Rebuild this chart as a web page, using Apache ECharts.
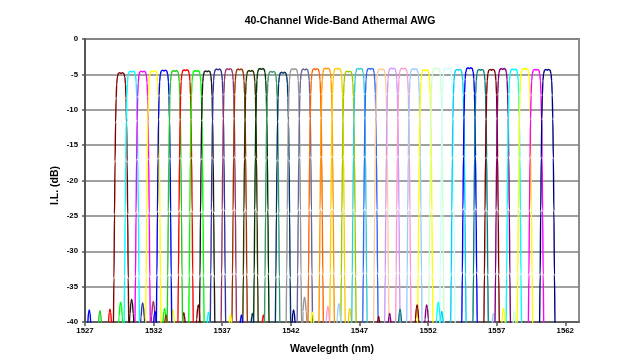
<!DOCTYPE html>
<html>
<head>
<meta charset="utf-8">
<script src="https://cdn.jsdelivr.net/npm/echarts@6/dist/echarts.min.js"></script>
<style>
html,body{margin:0;padding:0;background:#fff;}
#chart{width:640px;height:360px;}
</style>
</head>
<body>
<div id="chart"></div>
<script>
// Channel centre wavelengths (nm), left to right
var centers = [1529.63,1530.41,1531.20,1531.98,1532.76,1533.55,1534.33,1535.12,1535.90,1536.69,
               1537.48,1538.27,1539.06,1539.85,1540.64,1541.43,1542.22,1543.02,1543.81,1544.61,
               1545.40,1546.20,1547.00,1547.80,1548.59,1549.40,1550.20,1551.00,1551.80,1552.60,
               1553.41,1554.21,1555.02,1555.83,1556.63,1557.44,1558.25,1559.06,1559.87,1560.69];
// Peak insertion loss of each channel (dB)
var peakIL = [-4.76,-4.55,-4.55,-4.5,-4.4,-4.45,-4.35,-4.45,-4.5,-4.25,
              -4.2,-4.25,-4.45,-4.17,-4.58,-4.7,-4.2,-4.25,-4.2,-4.12,
              -4.15,-4.55,-4.15,-4.15,-4.25,-4.12,-4.12,-4.2,-4.35,-4.12,
              -4.12,-4.3,-4.07,-4.3,-4.3,-4.17,-4.25,-4.17,-4.3,-4.3];
// Passband profile: offset from centre (nm) and level relative to peak (dB)
var shapeOffset = [-0.64,-0.57,-0.52,-0.48,-0.44,-0.40,-0.36,-0.32,-0.27,-0.2,-0.1,0,0.1,0.2,0.27,0.32,0.36,0.40,0.44,0.48,0.52,0.57,0.64];
var shapeRel    = [-42,-37,-29,-20,-12.5,-7,-3.6,-1.6,-0.6,-0.1,0,-0.12,0,-0.1,-0.6,-1.6,-3.6,-7,-12.5,-20,-29,-37,-42];
// Small side lobes near the floor: [channel index, wavelength, peak dB]
var sideLobes = [
  [4,1527.31,-38.3],[5,1528.09,-38.4],[6,1528.82,-38.2],[7,1529.6,-37.2],[8,1530.4,-36.8],
  [9,1531.2,-37.3],[10,1531.98,-37.1],[32,1532.1,-38.5],[7,1532.8,-38.1],[11,1532.9,-39],
  [3,1533.4,-38.3],[0,1534.2,-38.7],[34,1535.26,-37.6],[1,1536.0,-38.6],[28,1537.6,-39],
  [32,1538.4,-39],[15,1539.2,-38.8],[6,1540.0,-39],[39,1542.2,-38.3],[16,1543.0,-36.5],
  [28,1543.57,-38.6],[26,1544.7,-37.8],[27,1545.5,-37.4],[20,1546.3,-38.1],[34,1548.4,-39.2],
  [35,1549.2,-38.8],[33,1549.96,-38.2],[34,1551.2,-37.6],[35,1551.9,-37.6],[36,1552.75,-37.2],
  [31,1553.0,-38.5],[27,1556.76,-38.8],[37,1557.5,-38.1],[29,1558.3,-38.5]
];
var lobeOffset = [-0.2,-0.12,-0.05,0,0.05,0.12,0.2];
var lobeRel    = [-5,-2,-0.4,0,-0.4,-2,-5];
// Axis ticks
var xTicks = [1527,1532,1537,1542,1547,1552,1557,1562];
var colors = ['#800000','#00FFFF','#FF00FF','#FFFF00','#0000FF','#22CC22','#FF0000','#00FF00','#1a1a1a','#333399',
              '#993366','#993300','#333300','#003300','#339966','#003366','#969696','#666699','#FF6600','#FF9900',
              '#FFCC00','#99CC00','#33CCCC','#3366FF','#FFCC99','#CC99FF','#FF99CC','#99CCFF','#FFFF00','#CCFFCC',
              '#CCFFFF','#00CCFF','#0000FF','#008080','#800000','#800080','#00FFFF','#FFFF00','#FF00FF','#000080'];

var series = centers.map(function (c, i) {
  var pts = [];
  for (var k = 0; k < shapeOffset.length; k++) pts.push([c + shapeOffset[k], peakIL[i] + shapeRel[k]]);
  sideLobes.forEach(function (s) {
    if (s[0] !== i) return;
    for (var k = 0; k < lobeOffset.length; k++) pts.push([s[1] + lobeOffset[k], s[2] + lobeRel[k]]);
  });
  pts.sort(function (a, b) { return a[0] - b[0]; });
  return {
    type: 'line', name: 'Ch' + (i + 1), data: pts, showSymbol: false, symbol: 'none',
    smooth: 0.35, smoothMonotone: 'x', clip: true, animation: false,
    lineStyle: { color: colors[i], width: 1.4 }, itemStyle: { color: colors[i] }
  };
});

var font = '"Liberation Sans", Arial, sans-serif';
var chart = echarts.init(document.getElementById('chart'), null, { renderer: 'canvas' });
chart.setOption({
  animation: false,
  backgroundColor: '#ffffff',
  title: {
    text: '40-Channel Wide-Band Athermal AWG', left: 340, top: 16, textAlign: 'center', padding: 0,
    textStyle: { fontFamily: font, fontWeight: 'bold', fontSize: 10.5, color: '#000' }
  },
  grid: { left: 85, right: 61, top: 39, bottom: 38, show: true, borderColor: '#8c8c8c', borderWidth: 2, backgroundColor: 'transparent' },
  xAxis: {
    type: 'value', min: 1527, max: 1563, interval: 5,
    name: 'Wavelegnth (nm)', nameLocation: 'middle', nameGap: 22, nameMoveOverlap: false,
    nameTextStyle: { fontFamily: font, fontWeight: 'bold', fontSize: 10.5, color: '#000' },
    axisLine: { show: true, onZero: false, lineStyle: { color: '#555', width: 1.5 } },
    axisTick: { show: true, inside: false, length: 4, customValues: xTicks, lineStyle: { color: '#555', width: 1.5 } },
    axisLabel: { customValues: xTicks, margin: 5, fontFamily: font, fontWeight: 'bold', fontSize: 7.8, color: '#000',
                 formatter: function (v) { return String(v); } },
    splitLine: { show: false }
  },
  yAxis: {
    type: 'value', min: -40, max: 0, interval: 5,
    name: 'I.L. (dB)', nameLocation: 'middle', nameGap: 24, nameRotate: 90, nameMoveOverlap: false,
    nameTextStyle: { fontFamily: font, fontWeight: 'bold', fontSize: 10.5, color: '#000', padding: [0, 10, 0, 0] },
    axisLine: { show: true, onZero: false, lineStyle: { color: '#444', width: 1.5 } },
    axisTick: { show: true, length: 3, lineStyle: { color: '#555', width: 1.5 } },
    axisLabel: { margin: 7, fontFamily: font, fontWeight: 'bold', fontSize: 7.8, color: '#000' },
    splitLine: { show: true, lineStyle: { color: '#808080', width: 1.5 } }
  },
  series: series
});
</script>
</body>
</html>
